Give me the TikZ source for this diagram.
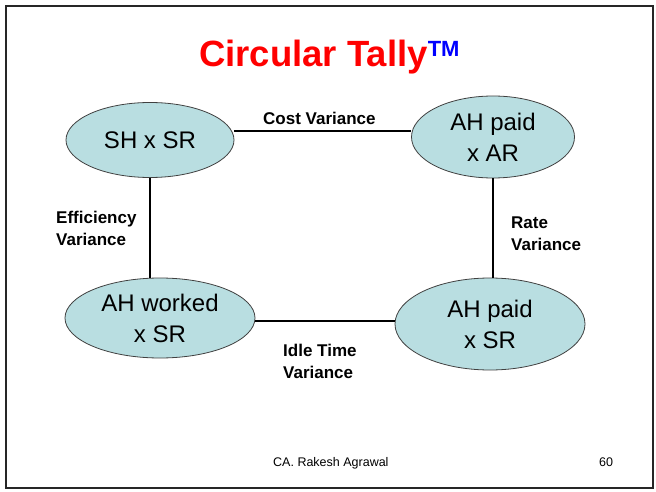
\documentclass[tikz,border=0pt]{standalone}
\usepackage{fontspec}
\setmainfont{Liberation Sans}
\usetikzlibrary{shapes.geometric,calc}
\definecolor{ovalfill}{HTML}{B9DEE1}
\definecolor{titlered}{HTML}{FF0000}
\definecolor{tmblue}{HTML}{0000FF}
\begin{document}
\begin{tikzpicture}[x=1pt,y=-1pt,
  oval/.style={ellipse,draw=black!75,line width=0.8pt,fill=ovalfill,inner sep=0pt,align=center,font=\fontsize{24}{31}\selectfont},
  conn/.style={draw=black,line width=1.3pt},
  lbl/.style={font=\bfseries\fontsize{17}{22}\selectfont,inner sep=0pt,anchor=base west,align=left},
  foot/.style={font=\fontsize{12.5}{14}\selectfont,inner sep=0pt,anchor=base west}]
\useasboundingbox (0,0) rectangle (656,492);
\fill[white] (0,0) rectangle (656,492);
\draw[black!85,line width=2pt] (6,6) rectangle (653,488);
\node[font=\bfseries\fontsize{36.5}{40}\selectfont,text=titlered,anchor=base west,inner sep=0pt] (title) at (199,67) {Circular Tally\raisebox{10pt}{\textcolor{tmblue}{\fontsize{22}{24}\selectfont TM}}};
\node[oval,minimum width=168pt,minimum height=75pt] (a) at (150,140) {SH x SR};
\node[oval,minimum width=163pt,minimum height=82pt] (b) at (493,137) {AH paid\\x AR};
\node[oval,minimum width=190pt,minimum height=80pt] (c) at (160,318) {AH worked\\x SR};
\node[oval,minimum width=190pt,minimum height=92pt] (d) at (490,324) {AH paid\\x SR};
\draw[conn] (a.east |- 0,131) -- (b.west |- 0,131);
\draw[conn] (a.south) -- (a.south |- c.north);
\draw[conn] (b.south) -- (b.south |- d.north);
\draw[conn] (c.east |- 0,321) -- (d.west |- 0,321);
\node[lbl] (l1) at (263,125) {Cost Variance};
\node[lbl] (l2) at (56,245) {Efficiency\\Variance};
\node[lbl] (l3) at (511,250) {Rate\\Variance};
\node[lbl] (l4) at (283,378) {Idle Time\\Variance};
\node[foot] (f1) at (273,466) {CA. Rakesh Agrawal};
\node[foot] (f2) at (599,466) {60};
\end{tikzpicture}
\end{document}
